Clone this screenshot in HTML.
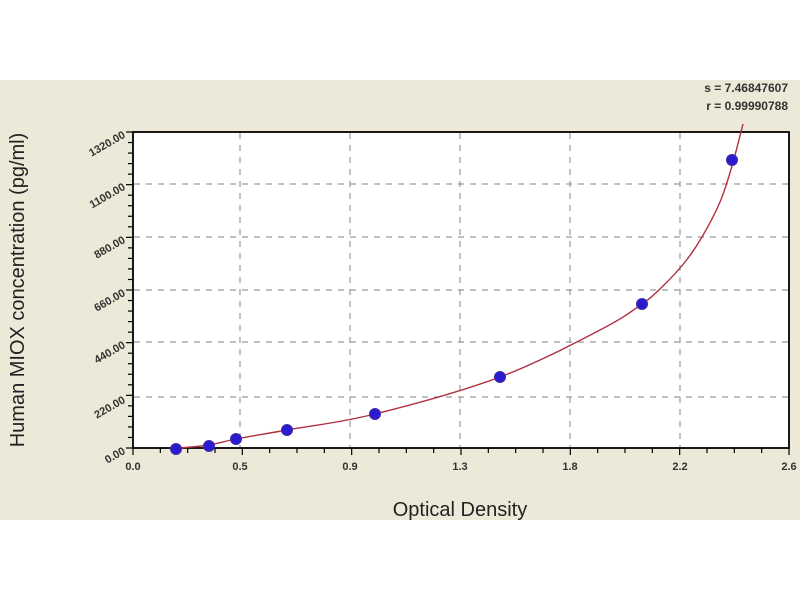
<!DOCTYPE html>
<html><head><style>
body{margin:0;width:800px;height:600px;background:#fff;overflow:hidden;font-family:"Liberation Sans",sans-serif}
</style></head><body>
<svg width="800" height="600" xmlns="http://www.w3.org/2000/svg">
<rect x="0" y="80" width="800" height="440" fill="#ece9d8"/>
<rect x="133" y="132" width="656" height="316" fill="#fff"/>
<g stroke="#999" stroke-width="1.2" stroke-dasharray="6,6">
<line x1="240" y1="133" x2="240" y2="447"/><line x1="350" y1="133" x2="350" y2="447"/>
<line x1="460" y1="133" x2="460" y2="447"/><line x1="570" y1="133" x2="570" y2="447"/>
<line x1="680" y1="133" x2="680" y2="447"/>
<line x1="134" y1="397" x2="788" y2="397"/><line x1="134" y1="342" x2="788" y2="342"/>
<line x1="134" y1="290" x2="788" y2="290"/><line x1="134" y1="237" x2="788" y2="237"/>
<line x1="134" y1="184" x2="788" y2="184"/>
</g>
<rect x="133" y="132" width="656" height="316" fill="none" stroke="#000" stroke-width="1.8"/>
<g id="ticks" stroke="#000" stroke-width="1.2"></g>
<path id="curve" fill="none" stroke="#b03040" stroke-width="1.4"/>
<g fill="#2a1ad0" stroke="#4030a0" stroke-width="1">
<circle cx="176" cy="449" r="5.5"/><circle cx="209" cy="446" r="5.5"/><circle cx="236" cy="439" r="5.5"/>
<circle cx="287" cy="430" r="5.5"/><circle cx="375" cy="414" r="5.5"/><circle cx="500" cy="377" r="5.5"/>
<circle cx="642" cy="304" r="5.5"/><circle cx="732" cy="160" r="5.5"/>
</g>
<g font-size="11" font-weight="bold" fill="#333" text-anchor="middle">
<text x="133" y="470">0.0</text><text x="240" y="470">0.5</text><text x="350" y="470">0.9</text>
<text x="460" y="470">1.3</text><text x="570" y="470">1.8</text><text x="680" y="470">2.2</text><text x="789" y="470">2.6</text>
</g>
<g font-size="11" font-weight="bold" fill="#333" text-anchor="end">
<text transform="translate(126,453) rotate(-30)">0.00</text>
<text transform="translate(126,402) rotate(-30)">220.00</text>
<text transform="translate(126,347) rotate(-30)">440.00</text>
<text transform="translate(126,295) rotate(-30)">660.00</text>
<text transform="translate(126,242) rotate(-30)">880.00</text>
<text transform="translate(126,189) rotate(-30)">1100.00</text>
<text transform="translate(126,137) rotate(-30)">1320.00</text>
</g>
<g font-size="12" font-weight="bold" fill="#333" text-anchor="end">
<text x="788" y="92">s = 7.46847607</text><text x="788" y="110">r = 0.99990788</text>
</g>
<text x="460" y="516" font-size="20" text-anchor="middle" fill="#222">Optical Density</text>
<text transform="translate(24,290) rotate(-90)" font-size="20" text-anchor="middle" fill="#222">Human MIOX concentration (pg/ml)</text>
</svg>
<script>
var t=document.getElementById('ticks'),s='';
for(var i=0;i<=24;i++){var x=133+i*656/24;s+='<line x1="'+x+'" y1="448" x2="'+x+'" y2="'+(i%4==0?455:453)+'"/>';}
for(var j=0;j<=30;j++){var y=448-j*316/30;s+='<line x1="133" y1="'+y+'" x2="'+(j%5==0?126:128)+'" y2="'+y+'"/>';}
t.innerHTML=s;
var p=[[180,448],[209,445],[236,439],[287,430],[375,414],[500,377],[600,330],[642,304],[663,286],[685,262],[702,237],[720,202],[732,166],[743,124]];
var d='M'+p[0];
for(var k=0;k<p.length-1;k++){var a=p[k-1]||p[k],b=p[k],c=p[k+1],e=p[k+2]||c;
d+=' C'+(b[0]+(c[0]-a[0])/6)+','+(b[1]+(c[1]-a[1])/6)+' '+(c[0]-(e[0]-b[0])/6)+','+(c[1]-(e[1]-b[1])/6)+' '+c;}
document.getElementById('curve').setAttribute('d',d);
</script>
</body></html>
